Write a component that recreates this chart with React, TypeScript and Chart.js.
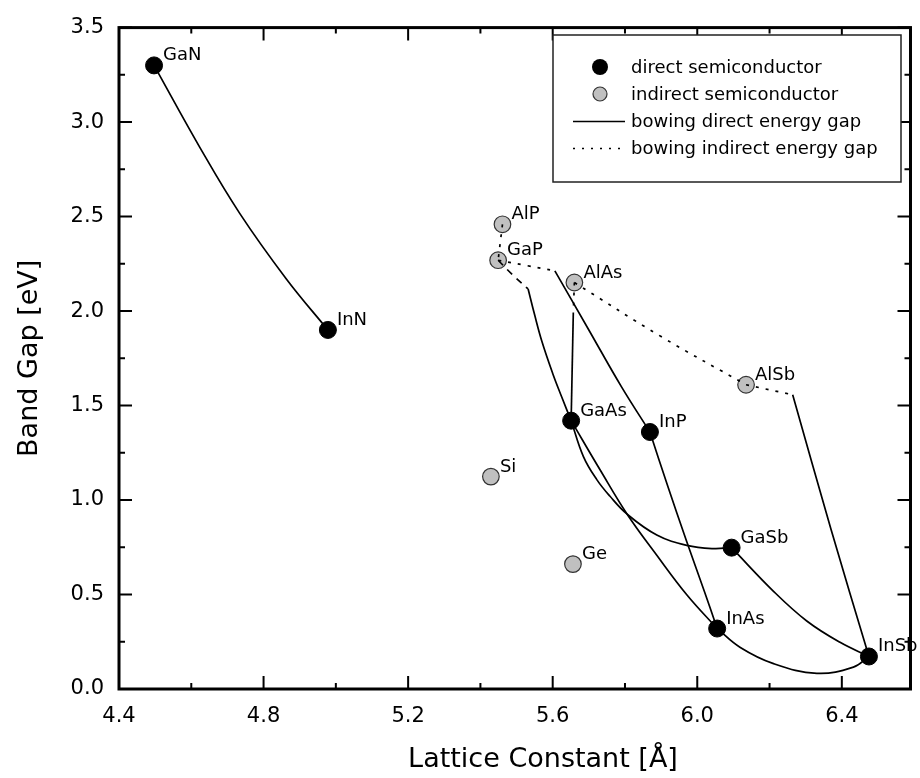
import React, { useEffect, useRef } from 'react';
import { Chart, registerables } from 'chart.js';

Chart.register(...registerables);

const FONT = '"DejaVu Sans", sans-serif';

// ---- axis ticks ----
const xMajorTicks = [4.4, 4.8, 5.2, 5.6, 6.0, 6.4];
const xMinorTicks = [4.6, 5.0, 5.4, 5.8, 6.2];
const yMajorTicks = [0, 0.5, 1.0, 1.5, 2.0, 2.5, 3.0, 3.5];
const yMinorTicks = [0.25, 0.75, 1.25, 1.75, 2.25, 2.75, 3.25];

// ---- semiconductors ----
const directNames = ['GaN', 'InN', 'GaAs', 'InP', 'GaSb', 'InAs', 'InSb'];
const directX = [4.497, 4.978, 5.651, 5.869, 6.095, 6.055, 6.475];
const directY = [3.3, 1.9, 1.42, 1.36, 0.748, 0.32, 0.172];

const indirectNames = ['AlP', 'GaP', 'AlAs', 'AlSb', 'Si', 'Ge'];
const indirectX = [5.461, 5.449, 5.66, 6.135, 5.429, 5.656];
const indirectY = [2.459, 2.269, 2.151, 1.61, 1.124, 0.661];

// ---- bowing direct energy gap (solid) ----
const GaN_InN = [[4.497, 3.3], [4.624, 2.865], [4.734, 2.517], [4.863, 2.17], [4.978, 1.9]];
const GaAsP_direct = [[5.532, 2.117], [5.55, 1.98], [5.57, 1.84], [5.6, 1.67], [5.625, 1.545], [5.651, 1.42]];
const GaInP_direct = [[5.606, 2.213], [5.7, 1.9], [5.79, 1.6], [5.869, 1.36]];
const AlGaAs_direct = [[5.657, 1.99], [5.651, 1.42]];
const GaAs_InAs = [[5.651, 1.42], [5.731, 1.16], [5.806, 0.925], [5.888, 0.708], [5.971, 0.499], [6.055, 0.32]];
const GaAs_GaSb = [[5.651, 1.42], [5.685, 1.23], [5.722, 1.108], [5.758, 1.021], [5.806, 0.925], [5.888, 0.815], [5.971, 0.76], [6.044, 0.743], [6.095, 0.748]];
const InP_InAs = [[5.869, 1.36], [5.918, 1.075], [5.97, 0.785], [6.02, 0.515], [6.055, 0.32]];
const InAs_InSb = [[6.055, 0.32], [6.118, 0.221], [6.211, 0.134], [6.331, 0.083], [6.432, 0.116], [6.475, 0.172]];
const GaSb_InSb = [[6.095, 0.748], [6.211, 0.517], [6.303, 0.36], [6.395, 0.247], [6.475, 0.172]];
const AlInSb_direct = [[6.264, 1.557], [6.37, 0.845], [6.475, 0.172]];

// ---- bowing indirect energy gap (dotted) ----
const AlP_GaP = [[5.461, 2.459], [5.449, 2.269]];
const GaAsP_indirect = [[5.449, 2.269], [5.49, 2.19], [5.532, 2.117]];
const GaInP_indirect = [[5.449, 2.269], [5.53, 2.24], [5.606, 2.213]];
const AlGaAs_indirect = [[5.66, 2.151], [5.657, 1.99]];
const AlAs_AlSb = [[5.66, 2.151], [5.9, 1.865], [6.135, 1.61]];
const AlInSb_indirect = [[6.135, 1.61], [6.264, 1.557]];

const solidCurves = [GaN_InN, GaAsP_direct, GaInP_direct, AlGaAs_direct, GaAs_InAs, GaAs_GaSb, InP_InAs, InAs_InSb, GaSb_InSb, AlInSb_direct];
const dottedCurves = [AlP_GaP, GaAsP_indirect, GaInP_indirect, AlGaAs_indirect, AlAs_AlSb, AlInSb_indirect];

const legendLabels = ['direct semiconductor', 'indirect semiconductor', 'bowing direct energy gap', 'bowing indirect energy gap'];

const GRAY = '#c0c0c0';

const framePlugin = {
  id: 'frame',
  afterDatasetsDraw(chart: any) {
    const { ctx, chartArea: a, scales } = chart;
    const x = scales.x;
    const y = scales.y;
    ctx.save();
    ctx.strokeStyle = '#000';
    ctx.lineCap = 'butt';
    // ticks
    ctx.lineWidth = 2;
    const drawX = (v: number, len: number) => {
      const px = x.getPixelForValue(v);
      ctx.beginPath();
      ctx.moveTo(px, a.bottom);
      ctx.lineTo(px, a.bottom - len);
      ctx.moveTo(px, a.top);
      ctx.lineTo(px, a.top + len);
      ctx.stroke();
    };
    const drawY = (v: number, len: number) => {
      const py = y.getPixelForValue(v);
      ctx.beginPath();
      ctx.moveTo(a.left, py);
      ctx.lineTo(a.left + len, py);
      ctx.moveTo(a.right, py);
      ctx.lineTo(a.right - len, py);
      ctx.stroke();
    };
    xMajorTicks.forEach((v) => drawX(v, 13));
    xMinorTicks.forEach((v) => drawX(v, 6));
    yMajorTicks.forEach((v) => drawY(v, 13));
    yMinorTicks.forEach((v) => drawY(v, 6));
    // frame
    ctx.lineWidth = 3;
    ctx.strokeRect(a.left, a.top, a.right - a.left, a.bottom - a.top);

    // point labels
    ctx.fillStyle = '#000';
    ctx.font = `18px ${FONT}`;
    ctx.textAlign = 'left';
    ctx.textBaseline = 'alphabetic';
    directNames.forEach((n, i) => {
      ctx.fillText(n, x.getPixelForValue(directX[i]) + 9, y.getPixelForValue(directY[i]) - 5);
    });
    indirectNames.forEach((n, i) => {
      ctx.fillText(n, x.getPixelForValue(indirectX[i]) + 9, y.getPixelForValue(indirectY[i]) - 5);
    });

    // axis titles
    ctx.font = `27px ${FONT}`;
    ctx.textAlign = 'center';
    ctx.fillText('Lattice Constant [Å]', 543, 767);
    ctx.save();
    ctx.translate(37, (a.top + a.bottom) / 2);
    ctx.rotate(-Math.PI / 2);
    ctx.fillText('Band Gap [eV]', 0, 0);
    ctx.restore();

    // legend
    const lx = 553, ly = 35, lw = 348, lh = 147;
    ctx.fillStyle = '#fff';
    ctx.fillRect(lx, ly, lw, lh);
    ctx.lineWidth = 1.5;
    ctx.strokeStyle = '#222';
    ctx.strokeRect(lx, ly, lw, lh);
    const rows = [67, 94, 121.5, 148.5];
    ctx.beginPath();
    ctx.arc(600, rows[0], 8, 0, Math.PI * 2);
    ctx.fillStyle = '#000';
    ctx.fill();
    ctx.beginPath();
    ctx.arc(600, rows[1], 7, 0, Math.PI * 2);
    ctx.fillStyle = GRAY;
    ctx.fill();
    ctx.lineWidth = 1.2;
    ctx.strokeStyle = '#333';
    ctx.stroke();
    ctx.strokeStyle = '#000';
    ctx.lineWidth = 1.6;
    ctx.beginPath();
    ctx.moveTo(573, rows[2]);
    ctx.lineTo(625, rows[2]);
    ctx.stroke();
    ctx.setLineDash([2, 7]);
    ctx.beginPath();
    ctx.moveTo(573, rows[3]);
    ctx.lineTo(625, rows[3]);
    ctx.stroke();
    ctx.setLineDash([]);
    ctx.fillStyle = '#000';
    ctx.font = `18px ${FONT}`;
    ctx.textAlign = 'left';
    ctx.textBaseline = 'middle';
    legendLabels.forEach((t, i) => ctx.fillText(t, 631, rows[i] + 1));
    ctx.restore();
  },
};

function toXY(arr: number[][]) {
  return arr.map((p) => ({ x: p[0], y: p[1] }));
}

export default function App() {
  const ref = useRef<HTMLCanvasElement | null>(null);
  useEffect(() => {
    if (!ref.current) return;
    const lineSets: any[] = [];
    solidCurves.forEach((c) => {
      lineSets.push({
        type: 'scatter',
        data: toXY(c),
        showLine: true,
        borderColor: '#000',
        borderWidth: 1.7,
        pointRadius: 0,
        tension: c.length > 2 ? 0.4 : 0,
        order: 0,
      });
    });
    dottedCurves.forEach((c) => {
      lineSets.push({
        type: 'scatter',
        data: toXY(c),
        showLine: true,
        borderColor: '#000',
        borderWidth: 1.7,
        borderDash: c === GaAsP_indirect ? [7, 6] : [3, 7],
        pointRadius: 0,
        tension: c.length > 2 ? 0.4 : 0,
        order: 0,
      });
    });
    const chart = new Chart(ref.current, {
      type: 'scatter',
      data: {
        datasets: [
          ...lineSets,
          {
            type: 'scatter',
            data: directX.map((v, i) => ({ x: v, y: directY[i] })),
            pointRadius: 8.5,
            pointBackgroundColor: '#000',
            pointBorderColor: '#000',
            pointBorderWidth: 1,
            showLine: false,
            order: 1,
          },
          {
            type: 'scatter',
            data: indirectX.map((v, i) => ({ x: v, y: indirectY[i] })),
            pointRadius: 8.3,
            pointBackgroundColor: GRAY,
            pointBorderColor: '#333',
            pointBorderWidth: 1.2,
            showLine: false,
            order: 1,
          },
        ],
      } as any,
      options: {
        responsive: false,
        animation: false,
        devicePixelRatio: 1,
        layout: { padding: { left: 0, right: 9, top: 18, bottom: 0 } },
        plugins: { legend: { display: false }, tooltip: { enabled: false } },
        scales: {
          x: {
            type: 'linear',
            min: 4.4,
            max: 6.59,
            grid: { display: false, drawTicks: false },
            border: { display: false },
            afterBuildTicks: (s: any) => {
              s.ticks = xMajorTicks.map((v) => ({ value: v }));
            },
            afterFit: (s: any) => {
              s.height = 89;
            },
            ticks: {
              padding: 15,
              color: '#000',
              font: { family: FONT, size: 21 },
              maxRotation: 0,
              autoSkip: false,
              callback: (v: any) => Number(v).toFixed(1),
            },
          },
          y: {
            type: 'linear',
            min: 0,
            max: 3.5,
            grid: { display: false, drawTicks: false },
            border: { display: false },
            afterBuildTicks: (s: any) => {
              s.ticks = yMajorTicks.map((v) => ({ value: v }));
            },
            afterFit: (s: any) => {
              s.width = 119;
            },
            ticks: {
              padding: 15,
              color: '#000',
              font: { family: FONT, size: 21 },
              autoSkip: false,
              callback: (v: any) => Number(v).toFixed(1),
            },
          },
        },
      } as any,
      plugins: [framePlugin],
    });
    return () => chart.destroy();
  }, []);
  return (
    <div style={{ position: 'absolute', left: 0, top: 0, width: 920, height: 778, background: '#fff' }}>
      <canvas ref={ref} width={920} height={778} style={{ display: 'block' }} />
    </div>
  );
}
